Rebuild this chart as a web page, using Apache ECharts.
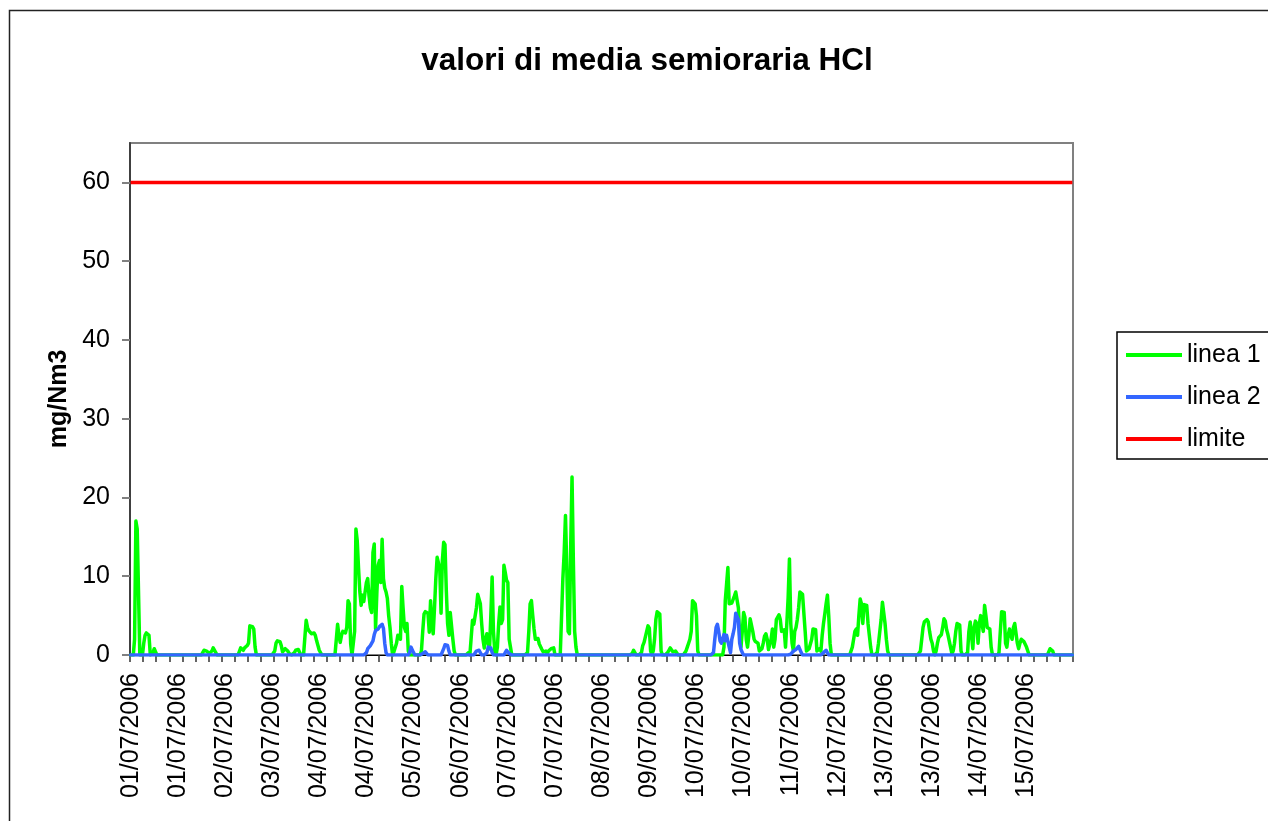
<!DOCTYPE html>
<html>
<head>
<meta charset="utf-8">
<script src="https://cdn.jsdelivr.net/npm/echarts@6/dist/echarts.min.js"></script>
<style>
  html, body { margin: 0; padding: 0; background: #fff; }
  #chart { width: 1268px; height: 821px; }
</style>
</head>
<body>
<div id="chart"></div>
<script>
// ---- Data (half-hourly values, 01/07/2006 00:00 -> 15/07/2006 23:30) ----
const startDay = 1;            // 01/07/2006
const pointsPerDay = 48;       // one value every 30 minutes
const dayCount = 15;

const title = 'valori di media semioraria HCl';
const yAxisName = 'mg/Nm3';
const seriesNames = ['linea 1', 'linea 2', 'limite'];
const limitValue = 60;
const yTicks = [0, 10, 20, 30, 40, 50, 60];

// Non-zero stretches of "linea 1": [first index, values...]; all other half hours are 0
const line1Bursts = [
  [3, [2, 17, 16, 8]],
  [10, [1.5, 2.5, 2.8, 2.8, 2.5]],
  [17, [0.3, 0.8, 0.7]],
  [55, [0.3, 0.6, 0.6, 0.5, 0.6, 0.2, 0.4, 0.5, 0.9, 0.8, 0.3]],
  [83, [0.2, 0.9, 0.8, 0.6, 0.9, 1.1, 1.2, 1.5, 3.7, 3.7, 3.6, 3.3, 1]],
  [110, [0.5, 1.5, 1.8, 1.9, 1.7, 1.2, 0.4, 0.3, 0.8, 0.9, 0.5, 0.2]],
  [125, [0.3, 0.6, 0.7, 0.7, 0.6]],
  [134, [4.4, 3.5, 3.1, 3.2, 2.7, 2.9, 2.8, 2.5, 1.8, 1.2, 0.6, 0.5]],
  [158, [3.9, 2.5, 1.6, 2.5, 3.0, 3.1, 2.8, 3.5, 6.9, 6.5, 1.4]],
  [171, [3, 16, 14.5, 11, 8, 6.3, 7.6, 6.8, 8, 9.2, 9.7, 7.5, 6, 5.4, 13, 14.1, 3.3, 8, 11.4, 12, 9.2, 14.7, 9.7, 8.5, 8, 7.2, 5, 3.5, 1.5]],
  [201, [0.4, 0.5, 1.5, 2.5, 2.7, 2, 8.7, 6, 3.5, 3, 4, 0.5]],
  [222, [0.5, 3, 5.2, 5.5, 5.5, 5.3, 2.9, 6.9, 4, 2.7, 6, 9.7, 12.4, 12.6, 11, 5.3, 12, 14.3, 14, 8.2, 4, 2.5, 5.4, 5.2, 2, 0.5]],
  [257, [0.2, 0.3]],
  [261, [4.4, 3.9, 3.7, 6, 7.7, 7.8, 6.5, 4, 2, 0.9, 2, 2.7, 1.5, 0.8, 5, 9.9, 3, 0.5]],
  [280, [1, 4, 6.1, 4, 4.5, 11.4, 10.5, 9.5, 9.2, 2, 1]],
  [303, [0.3, 3, 6.5, 6.9, 5, 3.3, 2, 2, 2.1, 1.4, 1.3, 0.7, 0.4, 0.3, 0.5, 0.2, 0.5, 0.4, 0.8, 0.8, 0.9]],
  [330, [9.7, 13, 17.7, 11, 3, 2.7, 14, 22.6, 12, 3, 1]],
  [383, [0.2, 0.6, 0.5]],
  [390, [0.3, 1.2, 1.6, 2.3, 3, 3.7, 3.4, 0.5]],
  [399, [0.5, 2, 4.5, 5.5, 5.4, 5.2, 0.5]],
  [410, [0.3, 0.6, 0.9, 0.9, 0.4, 0.5, 0.5, 0.3]],
  [424, [0.5, 1, 1.5, 2, 3, 6.9, 6.9, 6.5, 5, 0.5]],
  [453, [1, 6.9, 9, 11.1, 6.5, 6.7, 6.6, 6.5, 7.5, 8, 8.2, 6, 2.5, 1, 3, 5.4, 4.8, 2, 1, 2.5, 4.6, 4.5, 3, 2, 1.7, 1.5, 1.5, 0.5, 0.4, 0.8, 1.5, 2.4, 2.7, 2, 0.7]],
  [488, [0.8, 2, 3.3, 1, 2, 4.5, 4.6, 5.1, 4.5, 3, 3.1, 3.2, 1, 4, 7.3, 12.2, 4, 1.5, 0.5, 3, 3.5, 4.5, 6, 8, 7.8, 7.7, 7.5, 3, 0.5, 0.3, 0.8, 0.6, 2, 3.3, 3.3, 3.2, 0.5, 0.3, 0.8, 0.5, 2.5, 4, 5.2, 6.5, 7.6, 5, 1.5]],
  [550, [0.2, 1, 2, 3, 3.3, 2.5, 5, 7.1, 6.5, 4, 6.4, 6.5, 6.3, 4, 2.5, 1]],
  [570, [0.3, 1.5, 3, 4.5, 6.7, 6.8, 4, 2, 0.5]],
  [603, [0.5, 2, 3.5, 4.2, 4.4, 4.5, 4.2, 3, 2, 1.5, 0.5]],
  [615, [0.5, 1.5, 2.2, 2.4, 2.6, 3.5, 4.6, 4.3, 3.2, 2.6, 2.5, 1, 0.2, 0.5, 1.5, 3, 4, 3.9, 3.8, 0.5]],
  [639, [0.3, 3, 4.2, 4.2, 0.8, 3.5, 4.3, 4, 1.5, 4, 5, 5.2, 3, 6.3, 5, 3.5, 3.4, 3.3, 1]],
  [663, [0.3, 3, 5.5, 5.5, 5.4, 1.5, 1, 2.5, 3.3, 2.5, 2, 3.5, 4, 3.8, 1.5, 0.8, 1.5, 2, 1.9, 1.7, 1.5, 1, 0.5]],
  [701, [0.2, 0.8, 1, 0.5]]
];

// Non-zero stretches of "linea 2"
const line2Bursts = [
  [180, [0.3, 0.8, 1, 1.2, 1.4, 1.8, 2.6, 3.1, 3.2, 3.3, 3.6, 3.8, 3.9, 3.4, 1.5, 0.3]],
  [213, [0.3, 1, 1, 0.3]],
  [223, [0.2, 0.4, 0.4, 0.3]],
  [239, [0.8, 1.3, 1.4, 1.2, 0.5]],
  [263, [0.2, 0.5, 0.6, 0.6, 0.4]],
  [272, [0.3, 1, 1.1, 0.9, 0.3]],
  [286, [0.3, 0.6, 0.6, 0.2]],
  [445, [0.3, 2, 3.5, 3.9, 3, 1.8, 1.5, 2, 2.6, 1.8, 2.5, 2.5, 1, 0.3, 2, 2.7, 3.5, 5.3, 5.4, 4.5, 1.5, 0.7, 0.3]],
  [504, [0.1, 0.3, 0.5, 0.6, 0.7, 0.8, 1.1, 1, 0.3]],
  [528, [0.2, 0.3, 0.4, 0.6, 0.4]]
];

// ---- Build categories and full series ----
const pad = n => (n < 10 ? '0' : '') + n;
const categories = [];
for (let d = 0; d < dayCount; d++) {
  for (let h = 0; h < pointsPerDay; h++) {
    categories.push(pad(startDay + d) + '/07/2006 ' + pad(Math.floor(h / 2)) + ':' + (h % 2 ? '30' : '00'));
  }
}
const N = categories.length;
function expand(bursts) {
  const arr = new Array(N).fill(0);
  bursts.forEach(([s, vals]) => vals.forEach((v, k) => { arr[s + k] = v; }));
  return arr;
}
const line1 = expand(line1Bursts);
const line2 = expand(line2Bursts);
const limite = categories.map(() => limitValue);

const FONT = '"Liberation Sans", Arial, sans-serif';
const chart = echarts.init(document.getElementById('chart'), null, { renderer: 'canvas' });

chart.setOption({
  animation: false,
  backgroundColor: '#fff',
  title: {
    text: title,
    left: 642,
    textAlign: 'center',
    top: 40,
    textStyle: { fontFamily: FONT, fontSize: 31.5, fontWeight: 'bold', color: '#000' }
  },
  graphic: [{
    type: 'rect',
    shape: { x: 9.5, y: 10.5, width: 1400, height: 1000 },
    style: { fill: 'none', stroke: '#222', lineWidth: 1.5 },
    silent: true
  }],
  legend: {
    orient: 'vertical',
    left: 1117,
    top: 332,
    data: seriesNames,
    icon: 'rect',
    itemWidth: 56,
    itemHeight: 4,
    itemGap: 14,
    padding: [9, 12, 6, 9],
    borderColor: '#000',
    borderWidth: 1.5,
    textStyle: { fontFamily: FONT, fontSize: 25, color: '#000', lineHeight: 28 }
  },
  grid: {
    left: 130, top: 143, width: 943, height: 512,
    show: true, borderColor: '#808080', borderWidth: 2, backgroundColor: '#fff'
  },
  xAxis: {
    type: 'category',
    data: categories,
    boundaryGap: true,
    axisLine: { lineStyle: { color: '#000', width: 1 } },
    axisTick: { show: true, interval: 9, length: 7, lineStyle: { color: '#333', width: 1.5 } },
    axisLabel: {
      interval: 35,
      rotate: 90,
      margin: 18,
      fontFamily: FONT,
      fontSize: 25,
      color: '#000',
      formatter: v => v.split(' ')[0]
    },
    splitLine: { show: false }
  },
  yAxis: {
    type: 'value',
    min: 0,
    max: 65,
    interval: 10,
    name: yAxisName,
    nameLocation: 'middle',
    nameRotate: 90,
    nameGap: 58,
    nameTextStyle: { fontFamily: FONT, fontSize: 25, fontWeight: 'bold', color: '#000' },
    axisLine: { show: true, lineStyle: { color: '#404040', width: 2 } },
    axisTick: { show: true, length: 8, lineStyle: { color: '#808080', width: 2 } },
    axisLabel: {
      showMaxLabel: false,
      margin: 20,
      fontFamily: FONT,
      fontSize: 25,
      color: '#000',
      formatter: v => (yTicks.indexOf(v) >= 0 ? String(v) : '')
    },
    splitLine: { show: false }
  },
  series: [
    {
      name: seriesNames[0], type: 'line', data: line1,
      showSymbol: false, symbol: 'none', smooth: false,
      itemStyle: { color: '#00FF00' },
      lineStyle: { color: '#00FF00', width: 3.5, join: 'round', cap: 'round' },
      z: 2
    },
    {
      name: seriesNames[1], type: 'line', data: line2,
      showSymbol: false, symbol: 'none', smooth: false,
      itemStyle: { color: '#3366FF' },
      lineStyle: { color: '#3366FF', width: 3.5, join: 'round', cap: 'round' },
      z: 3
    },
    {
      name: seriesNames[2], type: 'line', data: limite,
      showSymbol: false, symbol: 'none',
      itemStyle: { color: '#FF0000' },
      lineStyle: { color: '#FF0000', width: 3.5 },
      z: 4
    }
  ]
});
</script>
</body>
</html>
